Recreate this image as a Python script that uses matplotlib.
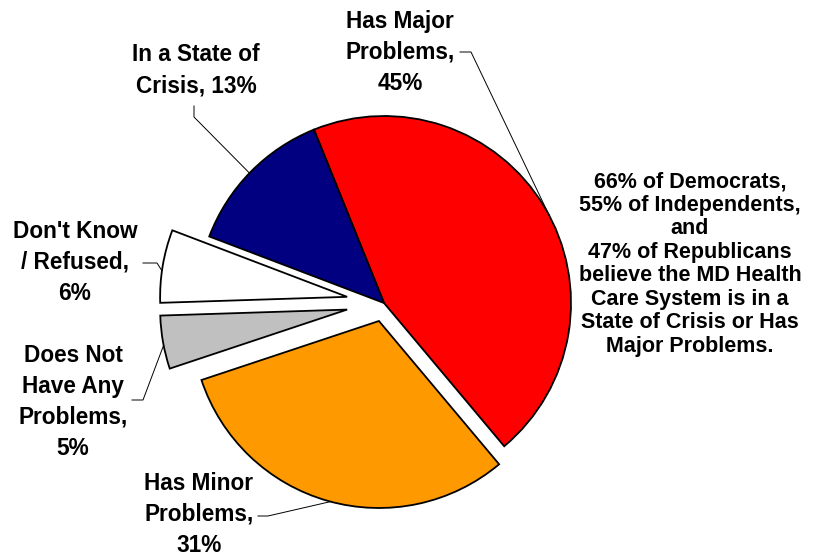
import numpy as np
import matplotlib.pyplot as plt

plt.rcParams['font.family'] = ['Liberation Sans', 'DejaVu Sans']
plt.rcParams['font.weight'] = 'bold'

# slices, clockwise from the top (unrounded shares)
categories = ['Has Major Problems', 'Has Minor Problems', 'Does Not Have Any Problems',
              "Don't Know / Refused", 'In a State of Crisis']
shares = [45.0, 31.0, 4.6, 6.3, 13.1]
label_fmt = ['Has Major\nProblems,\n{}%', 'Has Minor\nProblems,\n{}%',
             'Does Not\nHave Any\nProblems,\n{}%', "Don't Know\n/ Refused,\n{}%",
             'In a State of\nCrisis, {}%']
colors = ['#FF0000', '#FF9900', '#C0C0C0', '#FFFFFF', '#000080']
explode = [0, 0.1, 0.2, 0.2, 0]   # fraction of the radius

note = ('66% of Democrats,\n55% of Independents,\nand\n47% of Republicans\n'
        'believe the MD Health\nCare System is in a\nState of Crisis or Has\nMajor Problems.')

# layout in picture pixels (y measured from the top); text y = last baseline
W, H = 814, 557
pie_center = (384, 303)
pie_radius = 187
label_pos = [(400, 90), (199, 552), (73, 455), (75, 300), (196, 92)]
leader_pts = [[(460, 52), (471, 52)], [(258, 516), (268, 516)], [(132, 400), (143, 400)],
              [(143, 263), (157, 263)], [(194, 106), (194, 117)]]
leader_ang = [28, -105, -169, 172, 136]


def flip(p):
    return (p[0], H - p[1])


fig = plt.figure(figsize=(W / 100, H / 100), dpi=100)
ax = fig.add_axes([0, 0, 1, 1])

wedges, _ = ax.pie(shares, colors=colors, explode=[e * pie_radius for e in explode],
                   startangle=112, counterclock=False, center=flip(pie_center),
                   radius=pie_radius, wedgeprops=dict(edgecolor='black', linewidth=1.3))
ax.set_xlim(0, W)
ax.set_ylim(0, H)
ax.set_aspect('equal')
ax.axis('off')

for w, fmt, v, pos, pts, ang in zip(wedges, label_fmt, shares, label_pos, leader_pts, leader_ang):
    x, y = flip(pos)
    ax.text(x, y, fmt.format(int(round(v))), ha='center', va='baseline',
            multialignment='center', fontsize=16.3, fontweight='bold', linespacing=1.45)
    cx, cy = w.center
    end = (cx + w.r * np.cos(np.radians(ang)), cy + w.r * np.sin(np.radians(ang)))
    line = [flip(p) for p in pts] + [end]
    ax.plot([p[0] for p in line], [p[1] for p in line], color='black', lw=0.7)

nx, ny = flip((690, 352))
ax.text(nx, ny, note, ha='center', va='baseline', multialignment='center',
        fontsize=15.5, fontweight='bold', linespacing=1.16)

fig.savefig('out.png', dpi=100)
